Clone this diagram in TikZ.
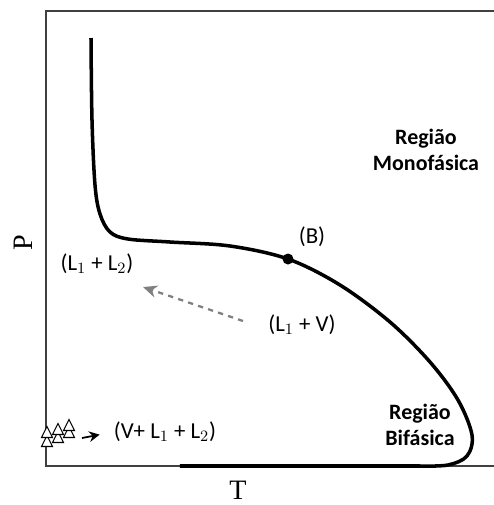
\documentclass[tikz,border=0pt]{standalone}
\usepackage{fontspec}
\setmainfont{Carlito}
\newfontfamily\axisfont{Liberation Serif}
\usetikzlibrary{arrows.meta}

\begin{document}
\begin{tikzpicture}[x=0.02cm, y=-0.02cm,
  frame/.style={draw=black!75, line width=1.1pt},
  curve/.style={line width=2pt, line join=round},
  lbl/.style={font=\fontsize{13}{15}\selectfont, inner sep=0pt},
  region/.style={lbl, font=\fontsize{12.5}{14.5}\selectfont\bfseries, align=center},
  axlbl/.style={font=\axisfont\fontsize{16}{18}\selectfont, inner sep=0pt},
  tri/.style={draw, fill=white, line width=0.6pt}]
  \useasboundingbox (0, 0) rectangle (494, 505);

  % frame
  \coordinate (topleft) at (46, 11);
  \coordinate (topright) at (494, 11);
  \coordinate (botleft) at (46, 466);
  \coordinate (botright) at (494, 466);
  \draw[frame] (topright) -- (topleft) -- (botleft) -- (botright);

  % phase envelope
  \draw[curve] plot[smooth, tension=0.55] coordinates {
    (91, 38) (92, 120) (95, 185) (100, 214) (110, 232) (128, 239)
    (170, 242) (230, 246) (288, 259) (340, 285) (390, 322) (430, 362)
    (458, 400) (472, 435) (467, 456) (448, 465) (420, 466)}
    -- (180, 466);
  \fill (288, 259) circle (5.5) coordinate (B);

  \node[lbl] (labB) at (312, 237) {(B)};
  \node[region] (mono) at (426, 150) {Região\\Monofásica};
  \node[region] (bif) at (420, 425) {Região\\Bifásica};
  \node[lbl] (ll) at (97, 264) {(L$_1$ + L$_2$)};
  \node[lbl] (lv) at (302, 325) {(L$_1$ + V)};
  \node[lbl] (vll) at (165, 432) {(V+ L$_1$ + L$_2$)};

  % arrows
  \coordinate (dashend) at (143, 287);
  \coordinate (dashstart) at (243, 321);
  \draw[gray, dashed, line width=1.3pt, -{Stealth[length=8pt, width=7pt]}]
    (dashstart) -- (dashend);
  \coordinate (tristart) at (82, 438);
  \draw[line width=1pt, shorten >=8pt, -{Stealth[length=6pt, width=6pt]}] (tristart) -- (vll.west);

  % data points
  \foreach \tx/\ty in {47/441, 47/432, 58/437, 58/429, 69/432, 69/425}
    \draw[tri] (\tx-5.5, \ty+5.5) -- (\tx, \ty-5.5) -- (\tx+5.5, \ty+5.5) -- cycle;

  \node[axlbl, rotate=90] (P) at (23, 243) {P};
  \node[axlbl] (T) at (238, 490) {T};
\end{tikzpicture}
\end{document}
